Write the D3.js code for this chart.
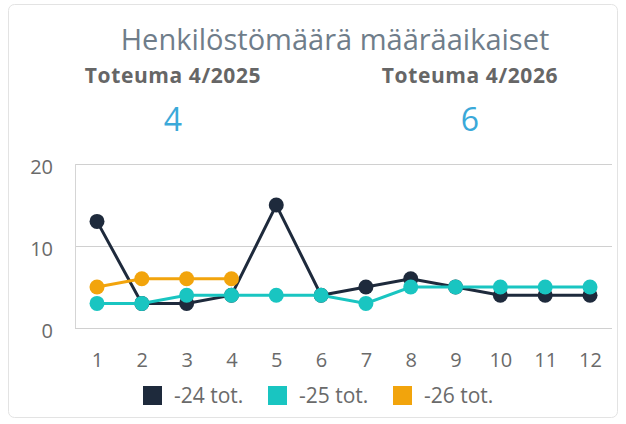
<!DOCTYPE html>
<html>
<head>
<meta charset="utf-8">
<script src="https://cdn.jsdelivr.net/npm/d3@7"></script>
<style>
  html, body { margin: 0; padding: 0; background: #fff; }
  svg { display: block; font-family: "Segoe UI", "Open Sans", "Noto Sans", sans-serif; }
</style>
</head>
<body>
<div id="chart"></div>
<script>
const months = [1, 2, 3, 4, 5, 6, 7, 8, 9, 10, 11, 12];
const series24 = [13, 3, 3, 4, 15, 4, 5, 6, 5, 4, 4, 4];
const series25 = [3, 3, 4, 4, 4, 4, 3, 5, 5, 5, 5, 5];
const series26 = [5, 6, 6, 6];
const seriesNames = ["-24 tot.", "-25 tot.", "-26 tot."];
const yTicks = [0, 10, 20];
const kpiLabels = ["Toteuma 4/2025", "Toteuma 4/2026"];
const kpiValues = [4, 6];

const width = 626, height = 424;
const colors = ["#1e2a3c", "#19c5c1", "#f2a40c"];
const gray = "#6a6a6a";
const fontStack = "\"Segoe UI\", \"Open Sans\", \"Noto Sans\", sans-serif";

const svg = d3.select("#chart").append("svg")
    .attr("width", width)
    .attr("height", height);

svg.append("rect")
    .attr("x", 8.5).attr("y", 4.5)
    .attr("width", 609).attr("height", 413)
    .attr("rx", 6)
    .attr("fill", "#fff")
    .attr("stroke", "#e3e3e3");

svg.append("text")
    .attr("x", 335).attr("y", 50)
    .attr("text-anchor", "middle")
    .style("font-size", "29px")
    .style("fill", "#6f7d8a")
    .text("Henkilöstömäärä määräaikaiset");

const kpiX = [173, 470];
kpiLabels.forEach((t, i) => {
    svg.append("text")
        .attr("x", kpiX[i]).attr("y", 83)
        .attr("text-anchor", "middle")
        .style("font-size", "21px")
        .style("font-weight", "bold")
        .style("letter-spacing", "0.6px")
        .style("fill", "#666")
        .text(t);
    svg.append("text")
        .attr("x", kpiX[i]).attr("y", 131)
        .attr("text-anchor", "middle")
        .style("font-size", "32px")
        .style("fill", "#3aa9d9")
        .text(kpiValues[i]);
});

const margin = { left: 75, right: 14 };
const x = d3.scalePoint()
    .domain(months)
    .range([97, 590]);
const y = d3.scaleLinear()
    .domain([0, 20])
    .range([328, 164]);

// gridlines
svg.append("g")
    .selectAll("line")
    .data(yTicks)
    .join("line")
    .attr("x1", margin.left).attr("x2", width - margin.right)
    .attr("y1", d => Math.round(y(d)) + 0.5).attr("y2", d => Math.round(y(d)) + 0.5)
    .attr("stroke", "#d0d0d0")
    .attr("stroke-width", 1);

svg.append("line")
    .attr("x1", margin.left + 0.5).attr("x2", margin.left + 0.5)
    .attr("y1", y(20)).attr("y2", y(0))
    .attr("stroke", "#d5d5d5");

// y axis labels
svg.append("g")
    .attr("transform", "translate(53,3)")
    .call(d3.axisLeft(y).tickValues(yTicks).tickSize(0).tickPadding(0))
    .call(g => g.select(".domain").remove())
    .call(g => g.selectAll("text")
        .style("font-size", "20px")
        .style("font-family", fontStack)
        .style("fill", gray));

// x axis labels
svg.append("g")
    .attr("transform", "translate(0,353)")
    .call(d3.axisBottom(x).tickSize(0).tickPadding(0))
    .call(g => g.select(".domain").remove())
    .call(g => g.selectAll("text")
        .style("font-size", "20px")
        .style("font-family", fontStack)
        .style("fill", gray));

const allSeries = [series24, series25, series26];
const line = d3.line()
    .x((d, i) => x(months[i]))
    .y(d => y(d));

allSeries.forEach((s, k) => {
    const g = svg.append("g");
    g.append("path")
        .datum(s)
        .attr("d", line)
        .attr("fill", "none")
        .attr("stroke", colors[k])
        .attr("stroke-width", 3);
    g.selectAll("circle")
        .data(s)
        .join("circle")
        .attr("cx", (d, i) => x(months[i]))
        .attr("cy", d => y(d))
        .attr("r", 7.5)
        .attr("fill", colors[k]);
});

// legend
const legendX = [143, 268, 393];
seriesNames.forEach((name, i) => {
    svg.append("rect")
        .attr("x", legendX[i]).attr("y", 386)
        .attr("width", 19).attr("height", 19)
        .attr("fill", colors[i]);
    svg.append("text")
        .attr("x", legendX[i] + 31).attr("y", 403)
        .style("font-size", "21px")
        .style("fill", gray)
        .text(name);
});
</script>
</body>
</html>
